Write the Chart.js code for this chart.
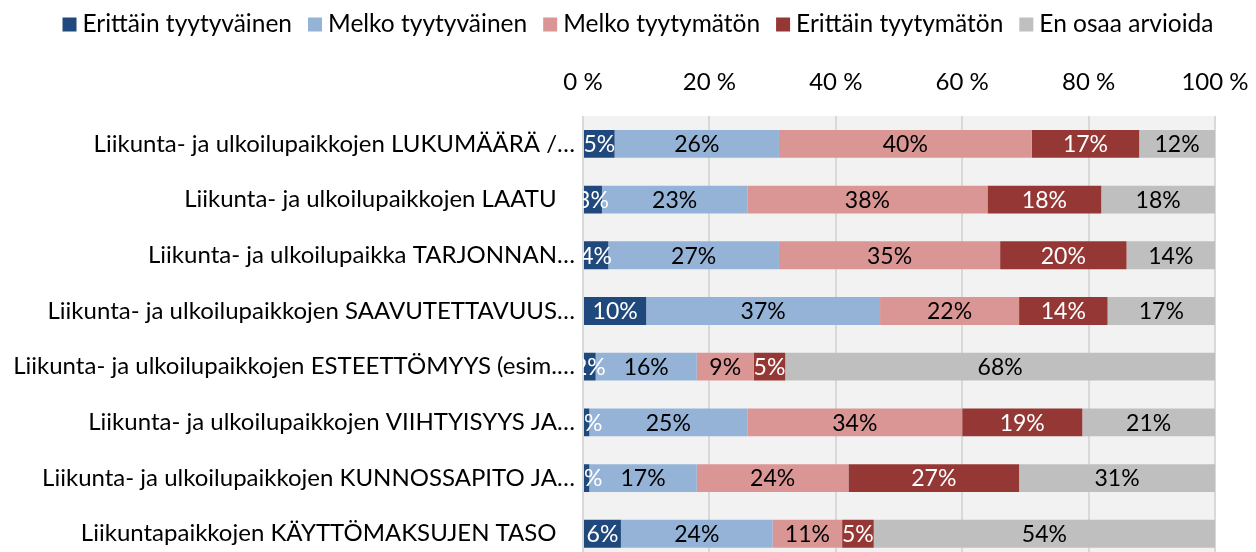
<!DOCTYPE html>
<html>
<head>
<meta charset="utf-8">
<script src="https://cdn.jsdelivr.net/npm/chart.js@4/dist/chart.umd.min.js"></script>
<style>
  html, body { margin: 0; padding: 0; background: #ffffff; overflow: hidden; }
  #wrap { width: 1256px; height: 584px; position: relative; }
</style>
</head>
<body>
<div id="wrap"><canvas id="c" width="1256" height="584"></canvas></div>
<script>
const categories = [
  "Liikunta- ja ulkoilupaikkojen LUKUMÄÄRÄ /…",
  "Liikunta- ja ulkoilupaikkojen LAATU",
  "Liikunta- ja ulkoilupaikka TARJONNAN…",
  "Liikunta- ja ulkoilupaikkojen SAAVUTETTAVUUS…",
  "Liikunta- ja ulkoilupaikkojen ESTEETTÖMYYS (esim.…",
  "Liikunta- ja ulkoilupaikkojen VIIHTYISYYS JA…",
  "Liikunta- ja ulkoilupaikkojen KUNNOSSAPITO JA…",
  "Liikuntapaikkojen KÄYTTÖMAKSUJEN TASO"
];
const seriesNames = ["Erittäin tyytyväinen", "Melko tyytyväinen", "Melko tyytymätön", "Erittäin tyytymätön", "En osaa arvioida"];
const erittainTyytyvainen = [5, 3, 4, 10, 2, 1, 1, 6];
const melkoTyytyvainen    = [26, 23, 27, 37, 16, 25, 17, 24];
const melkoTyytymaton     = [40, 38, 35, 22, 9, 34, 24, 11];
const erittainTyytymaton  = [17, 18, 20, 14, 5, 19, 27, 5];
const enOsaaArvioida      = [12, 18, 14, 17, 68, 21, 31, 54];
const tickValues = [0, 20, 40, 60, 80, 100];

const colors = ["#1F497D", "#95B3D7", "#DA9694", "#953735", "#BFBFBF"];
const labelColors = ["#ffffff", "#000000", "#000000", "#ffffff", "#000000"];
const FONT = "Lato";

const allSeries = [erittainTyytyvainen, melkoTyytyvainen, melkoTyytymaton, erittainTyytymaton, enOsaaArvioida];

const bgPlugin = {
  id: 'bgPlugin',
  beforeDraw(chart) {
    const a = chart.chartArea, ctx = chart.ctx;
    ctx.save();
    ctx.fillStyle = '#f2f2f2';
    ctx.fillRect(a.left - 1, a.top, a.right - a.left + 2, a.bottom - a.top);
    ctx.restore();
  }
};

const legendPlugin = {
  id: 'customLegend',
  afterDraw(chart) {
    const ctx = chart.ctx;
    ctx.save();
    ctx.font = `24.5px ${FONT}`;
    const box = 14, gapBox = 6, gapItem = 16;
    const widths = seriesNames.map(n => ctx.measureText(n).width);
    const total = widths.reduce((s, w) => s + box + gapBox + w, 0) + gapItem * (seriesNames.length - 1);
    let x = 638 - total / 2;
    const yc = 24.5;
    ctx.textBaseline = 'middle';
    ctx.textAlign = 'left';
    seriesNames.forEach((n, i) => {
      ctx.fillStyle = colors[i];
      ctx.fillRect(x, yc - box / 2, box, box);
      x += box + gapBox;
      ctx.fillStyle = '#000000';
      ctx.fillText(n, x, yc);
      x += widths[i] + gapItem;
    });
    ctx.restore();
  }
};

const dataLabelPlugin = {
  id: 'dataLabels',
  afterDatasetsDraw(chart) {
    const ctx = chart.ctx, a = chart.chartArea;
    ctx.save();
    ctx.beginPath();
    ctx.rect(a.left, a.top, a.right - a.left, a.bottom - a.top);
    ctx.clip();
    ctx.font = `23px ${FONT}`;
    ctx.textAlign = 'center';
    ctx.textBaseline = 'middle';
    chart.data.datasets.forEach((ds, i) => {
      const meta = chart.getDatasetMeta(i);
      meta.data.forEach((bar, j) => {
        const v = ds.data[j];
        const cx = (bar.x + bar.base) / 2;
        ctx.fillStyle = labelColors[i];
        ctx.fillText(v + '%', cx, bar.y + 1);
      });
    });
    ctx.restore();
  }
};

new Chart(document.getElementById('c'), {
  type: 'bar',
  data: {
    labels: categories,
    datasets: seriesNames.map((n, i) => ({
      label: n,
      data: allSeries[i],
      backgroundColor: colors[i],
      borderWidth: 0,
      categoryPercentage: 1,
      barPercentage: 0.5
    }))
  },
  options: {
    indexAxis: 'y',
    responsive: false,
    animation: false,
    devicePixelRatio: 1,
    layout: { padding: { top: 40, right: 41, bottom: 4, left: 0 } },
    plugins: { legend: { display: false }, tooltip: { enabled: false } },
    scales: {
      x: {
        position: 'top',
        stacked: true,
        min: 0, max: 100,
        afterBuildTicks(scale) { scale.ticks = tickValues.map(v => ({ value: v })); },
        afterFit(scale) { scale.height = 76; },
        ticks: {
          color: '#000000',
          font: { family: FONT, size: 24 },
          padding: 2,
          callback: v => v + ' %'
        },
        grid: { color: '#d9d9d9', lineWidth: 2, drawTicks: true, tickLength: 17, tickColor: 'rgba(0,0,0,0)' },
        border: { display: false }
      },
      y: {
        stacked: true,
        afterFit(scale) { scale.width = 583; },
        ticks: {
          color: '#000000',
          font: { family: FONT, size: 24 },
          padding: 8,
          callback: function (v, i) {
            const t = categories[i];
            return t.endsWith('…') ? t : t + '   ';
          }
        },
        grid: { display: false, drawTicks: false },
        border: { display: false }
      }
    }
  },
  plugins: [bgPlugin, dataLabelPlugin, legendPlugin]
});
</script>
</body>
</html>
